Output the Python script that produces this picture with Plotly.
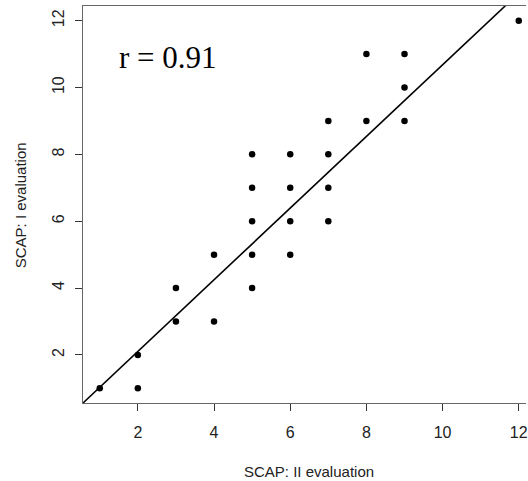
import plotly.graph_objects as go
import numpy as np

# SCAP scores: II evaluation (x) vs I evaluation (y)
x_vals = [1, 2, 2, 3, 3, 4, 4, 5, 5, 5, 5, 5, 6, 6, 6, 6, 7, 7, 7, 7, 8, 8, 9, 9, 9, 12]
y_vals = [1, 2, 1, 4, 3, 5, 3, 8, 7, 6, 5, 4, 8, 7, 6, 5, 9, 8, 7, 6, 11, 9, 11, 10, 9, 12]
tick_vals = [2, 4, 6, 8, 10, 12]
fit_slope = 1.072
fit_intercept = -0.04
r_label = "r = 0.91"

x_range = [0.56, 12.19]
y_range = [0.56, 12.44]

line_x = np.array([x_range[0], 13.0])
line_y = fit_intercept + fit_slope * line_x

fig = go.Figure()
fig.add_trace(go.Scatter(x=line_x, y=line_y, mode="lines",
                         line=dict(color="black", width=1.6), cliponaxis=True,
                         hoverinfo="skip"))
fig.add_trace(go.Scatter(x=x_vals, y=y_vals, mode="markers",
                         marker=dict(color="black", size=6.5), cliponaxis=False))

axis_common = dict(showgrid=False, zeroline=False, showline=True, linecolor="#666666",
                   linewidth=1.2, ticks="outside", ticklen=7, tickcolor="#333333",
                   tickwidth=1, tickvals=tick_vals, ticklabeloverflow="allow",
                   tickfont=dict(family="Liberation Sans, Arial", size=16, color="#222222"))

fig.update_xaxes(range=x_range, mirror=True, ticklabelstandoff=8, **axis_common)
fig.update_yaxes(range=y_range, mirror=False, tickangle=-90, ticklabelstandoff=5,
                 **axis_common)

fig.add_annotation(text=r_label, xref="x", yref="y", x=1.45, y=10.9, xanchor="left",
                   showarrow=False,
                   font=dict(family="Liberation Serif, Times New Roman", size=31, color="black"))
fig.add_annotation(text="SCAP: II evaluation", xref="paper", yref="paper",
                   x=(310 - 83) / 445, y=-(471 - 403) / 397, yanchor="middle",
                   showarrow=False,
                   font=dict(family="Liberation Sans, Arial", size=15, color="#222222"))
fig.add_annotation(text="SCAP: I evaluation", xref="paper", yref="paper",
                   x=-(83 - 21) / 445, y=(403 - 205) / 397, textangle=-90,
                   xanchor="center", yanchor="middle",
                   showarrow=False,
                   font=dict(family="Liberation Sans, Arial", size=15, color="#222222"))

fig.update_layout(width=528, height=481, showlegend=False,
                  margin=dict(l=83, r=0, t=6, b=78),
                  plot_bgcolor="white", paper_bgcolor="white")

fig.write_html("out.html", config={"displayModeBar": False},
               post_script="document.body.style.margin='0';document.body.style.overflow='hidden';")
